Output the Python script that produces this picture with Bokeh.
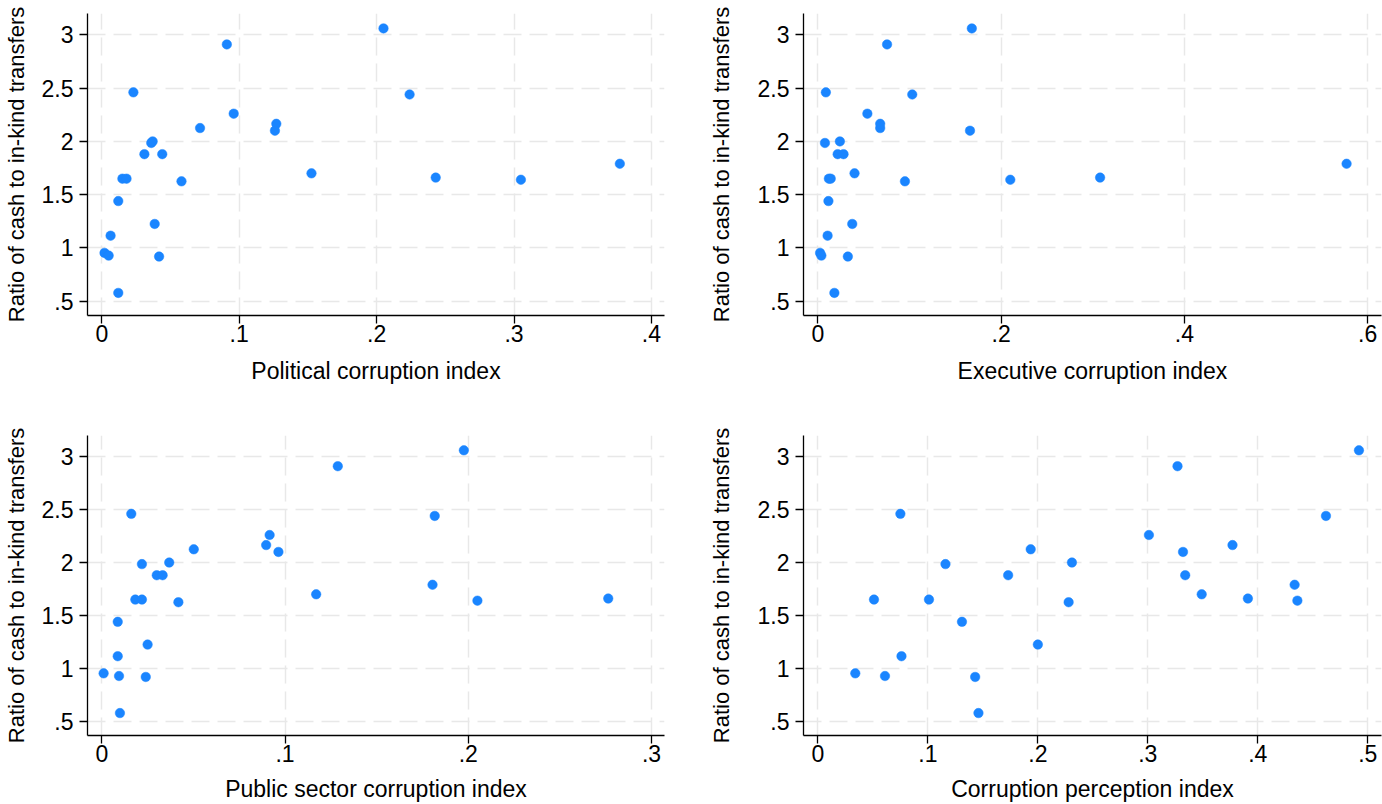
from bokeh.plotting import figure
from bokeh.layouts import column, row
from bokeh.models import FixedTicker, Range1d
from bokeh.embed import file_html
from bokeh.resources import INLINE

# Ratio of cash to in-kind transfers (same 26 observations in every panel)
ratio = [3.06, 2.91, 2.46, 2.44, 2.26, 2.125, 2.165, 2.10, 1.985, 2.00,
         1.88, 1.88, 1.65, 1.65, 1.625, 1.70, 1.66, 1.64, 1.79, 1.44,
         1.225, 1.115, 0.953, 0.928, 0.919, 0.578]

political = [0.205, 0.091, 0.023, 0.224, 0.096, 0.0715, 0.127, 0.126, 0.036, 0.037,
             0.031, 0.044, 0.015, 0.018, 0.058, 0.1526, 0.243, 0.305, 0.377, 0.012,
             0.0385, 0.0064, 0.002, 0.005, 0.0417, 0.012]

executive = [0.168, 0.0755, 0.0087, 0.103, 0.054, 0.068, 0.068, 0.166, 0.0077, 0.024,
             0.0216, 0.028, 0.012, 0.014, 0.095, 0.040, 0.308, 0.210, 0.577, 0.0115,
             0.0375, 0.0106, 0.0024, 0.0038, 0.0327, 0.018]

public_sector = [0.1976, 0.1288, 0.0161, 0.1817, 0.0916, 0.0502, 0.0897, 0.0964, 0.0219, 0.0368,
                 0.030, 0.0332, 0.0183, 0.0219, 0.0418, 0.117, 0.2764, 0.205, 0.1805, 0.0087,
                 0.025, 0.0087, 0.001, 0.0094, 0.024, 0.0099]

perception = [0.492, 0.327, 0.075, 0.462, 0.301, 0.1935, 0.377, 0.332, 0.116, 0.231,
              0.173, 0.334, 0.051, 0.101, 0.228, 0.349, 0.391, 0.436, 0.4335, 0.131,
              0.200, 0.076, 0.034, 0.061, 0.143, 0.146]

y_title = "Ratio of cash to in-kind transfers"
y_ticks = [0.5, 1, 1.5, 2, 2.5, 3]
y_tick_labels = [".5", "1", "1.5", "2", "2.5", "3"]

political_ticks = [0, 0.1, 0.2, 0.3, 0.4]
political_tick_labels = ["0", ".1", ".2", ".3", ".4"]
executive_ticks = [0, 0.2, 0.4, 0.6]
executive_tick_labels = ["0", ".2", ".4", ".6"]
public_ticks = [0, 0.1, 0.2, 0.3]
public_tick_labels = ["0", ".1", ".2", ".3"]
perception_ticks = [0, 0.1, 0.2, 0.3, 0.4, 0.5]
perception_tick_labels = ["0", ".1", ".2", ".3", ".4", ".5"]

FONT = "Liberation Sans"
FS = "23px"
BLUE = "#1a85ff"


def panel(xvals, xlabel, xticks, xlabels, xr, w, h, bl, br, bt, bb, ylab_sd, xlab_sd):
    p = figure(width=w, height=h, x_range=Range1d(*xr), y_range=Range1d(0.366, 3.2),
               output_backend="svg", toolbar_location=None,
               min_border_left=bl, min_border_right=br,
               min_border_top=bt, min_border_bottom=bb)
    p.outline_line_color = None
    p.background_fill_color = "white"
    p.border_fill_color = "white"
    p.grid.grid_line_color = "#e8e8e8"
    p.grid.grid_line_dash = "18 8"
    p.grid.grid_line_width = 1.5
    p.scatter(xvals, ratio, size=9.5, fill_color=BLUE, line_color=BLUE, line_width=0.5)

    p.xaxis.ticker = FixedTicker(ticks=xticks)
    p.xaxis.major_label_overrides = {t: l for t, l in zip(xticks, xlabels)}
    p.yaxis.ticker = FixedTicker(ticks=y_ticks)
    p.yaxis.major_label_overrides = {t: l for t, l in zip(y_ticks, y_tick_labels)}
    p.xaxis.axis_label = xlabel
    p.yaxis.axis_label = y_title
    for ax in (p.xaxis[0], p.yaxis[0]):
        ax.axis_line_color = "black"
        ax.axis_line_width = 1.3
        ax.major_tick_line_color = "black"
        ax.major_tick_line_width = 1.3
        ax.major_tick_in = 0
        ax.major_tick_out = 8
        ax.minor_tick_line_color = None
        ax.major_label_text_font = FONT
        ax.major_label_text_font_size = FS
        ax.major_label_text_color = "black"
        ax.axis_label_text_font = FONT
        ax.axis_label_text_font_size = FS
        ax.axis_label_text_font_style = "normal"
        ax.axis_label_text_color = "black"
    p.yaxis[0].axis_label_text_font_size = "22px"
    p.yaxis[0].major_label_standoff = 6
    p.xaxis[0].major_label_standoff = 1
    p.yaxis[0].axis_label_standoff = ylab_sd
    p.xaxis[0].axis_label_standoff = xlab_sd
    return p


p1 = panel(political, "Political corruption index", political_ticks, political_tick_labels,
           (-0.0104, 0.4095), 705, 400, 87, 41, 13, 85, 10, 13)
p2 = panel(executive, "Executive corruption index", executive_ticks, executive_tick_labels,
           (-0.0157, 0.6151), 677, 400, 98, 1, 13, 85, 21, 13)
p3 = panel(public_sector, "Public sector corruption index", public_ticks, public_tick_labels,
           (-0.0078, 0.3071), 705, 404, 87, 41, 35, 67, 10, 11)
p4 = panel(perception, "Corruption perception index", perception_ticks, perception_tick_labels,
           (-0.0131, 0.5125), 677, 404, 98, 1, 35, 67, 21, 11)

layout = column(row(p1, p2), row(p3, p4))
open("out.html", "w").write(file_html(layout, INLINE))
